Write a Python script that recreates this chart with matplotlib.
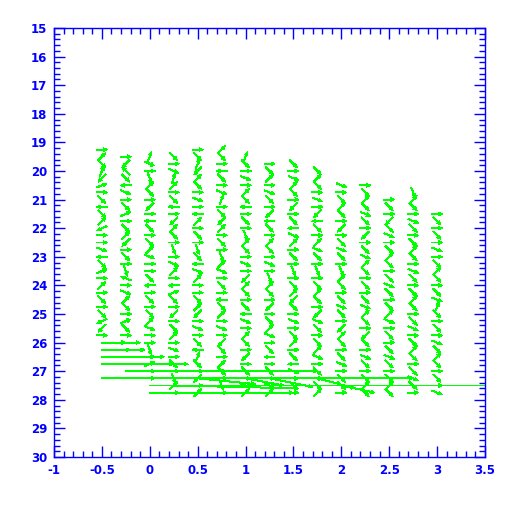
"""
Vector field plot (PGPLOT look): small green arrows on a grid, a few long ones near the bottom.
"""

import matplotlib

matplotlib.use("Agg")
import matplotlib.pyplot as plt
import numpy as np
from matplotlib.ticker import MultipleLocator, FuncFormatter

BLUE = "#0000ff"
GREEN = "#00ff00"

# Small arrows, one column per x. Rows every 0.25 starting at col_top.
# Direction codes are hex digits, 22.5 deg steps on screen (0 = right, 4 = up, 8 = left, c = down).
col_x = [-0.5, -0.25, 0.0, 0.25, 0.5, 0.75, 1.0, 1.25, 1.5, 1.75, 2.0, 2.25, 2.5, 2.75, 3.0]
col_top = [19.25, 19.5, 19.5, 19.5, 19.25, 19.25, 19.5, 19.75, 19.75, 20.0,
           20.5, 20.5, 21.0, 20.75, 21.5]
col_dirs = [
    "02e3a 10e8e 2900f 8e102 0e0e9 a0",
    "0a6e8 f0e10 e2a0e 0d70f 2e01e 0",
    "3f0d2 e0a08 e0e2f 00e80 e0e2f 00d01 00",
    "e0f32 0e80a 2e0d0 f2081 e0a0e 20f0e 0d20",
    "0e3a2 e0f08 20e0d e8f20 0e2a0 f0e83 e0a02",
    "2e08e 0f30e a20e0 d2f0e 08e20 f0ae0 2e0d0",
    "3e0f0 2e80e 0d2e0 f0a2e 0e8f0 2e0a0 e0f2",
    "0e20f e0a8e 02e0f 0d2e0 a0e2f 0e80e 0f2",
    "e0f2e 0a0e8 f20e0 d0e2a e0f0e 20e8f 0e0",
    "e2e0f 0a8e0 2fe0d 0e2e0 afe0e 2f0e0 e2",
    "f0e2e 0a0ef e0d2e 0efe0 a2e0e f0ee0",
    "0e2ef e0a0e f2e0e 0ef2e 0ae0f e0e2e",
    "0e0ae f0e2e 0efe0 e2f0e 0efe0 e2e",
    "d2e0f e0e2e 0fe0e 2e0ef 0e2e0 efe0",
    "0e0e0 f0e2e 0ef3e 0e0fe 2e0e0 f",
]
row_step = 0.25
arrow_px = 11  # on-screen length of the small arrows

# Long arrows near the bottom: tail position and components (data units)
long_x = [-0.5, -0.25, -0.5, -0.25, -0.5, -0.25, -0.5, -0.25, -0.25, 0.75,
          -0.5, 0.0, 0.0, 0.25, 0.5, 1.0, 1.25, 1.75, 2.0]
long_y = [26.0, 26.0, 26.25, 26.25, 26.5, 26.5, 26.75, 26.75, 27.0, 27.0,
          27.25, 27.5, 27.75, 27.5, 27.25, 27.25, 27.25, 27.25, 27.5]
long_u = [0.25, 0.15, 0.3, 0.2, 0.65, 0.3, 0.9, 0.5, 1.05, 1.0,
          3.25, 3.7, 1.5, 1.3, 0.6, 0.4, 0.45, 0.4, 0.35]
long_v = [0.0, 0.0, 0.0, 0.0, 0.0, 0.0, 0.0, 0.0, 0.0, 0.0,
          0.0, 0.0, 0.0, 0.1, 0.2, 0.25, 0.3, 0.35, 0.25]

x_range = (-1, 3.5)
y_range = (30, 15)


def small_vectors(ax_w_px, ax_h_px):
    """Turns the direction codes into quiver positions and components."""
    px_x = ax_w_px / (x_range[1] - x_range[0])
    px_y = ax_h_px / (y_range[0] - y_range[1])
    xs, ys, us, vs = [], [], [], []
    for x0, top, codes in zip(col_x, col_top, col_dirs):
        codes = "".join(codes.split())
        for i, c in enumerate(codes):
            a = np.deg2rad(int(c, 16) * 22.5)
            xs.append(x0)
            ys.append(top + i * row_step)
            us.append(arrow_px * np.cos(a) / px_x)
            vs.append(-arrow_px * np.sin(a) / px_y)
    return xs, ys, us, vs


fig = plt.figure(figsize=(5.12, 5.12), dpi=100)
ax = fig.add_axes([54 / 512, 1 - 457 / 512, 431 / 512, 429 / 512])
ax.set_xlim(*x_range)
ax.set_ylim(*y_range)

xs, ys, us, vs = small_vectors(431, 429)
quiver_style = dict(angles="xy", scale_units="xy", scale=1, units="dots", width=1.0,
                    headwidth=3.5, headlength=4, headaxislength=3.5, color=GREEN,
                    antialiased=False)
ax.quiver(xs, ys, us, vs, pivot="middle", **quiver_style)
ax.quiver(long_x, long_y, long_u, long_v, pivot="tail", **quiver_style)

for s in ax.spines.values():
    s.set_color(BLUE)
    s.set_linewidth(1.0)

ax.xaxis.set_major_locator(MultipleLocator(0.5))
ax.xaxis.set_minor_locator(MultipleLocator(0.1))
ax.yaxis.set_major_locator(MultipleLocator(1))
ax.yaxis.set_minor_locator(MultipleLocator(0.2))
ax.xaxis.set_major_formatter(FuncFormatter(lambda v, p: "%g" % v))
ax.yaxis.set_major_formatter(FuncFormatter(lambda v, p: "%g" % v))

ax.tick_params(which="both", direction="in", top=True, right=True, color=BLUE,
               labelcolor=BLUE, width=1.0)
ax.tick_params(which="major", length=8, labelsize=8.5, pad=5)
ax.tick_params(which="minor", length=4)
for lab in ax.get_xticklabels() + ax.get_yticklabels():
    lab.set_fontweight("bold")

fig.savefig("out.png", dpi=100)
